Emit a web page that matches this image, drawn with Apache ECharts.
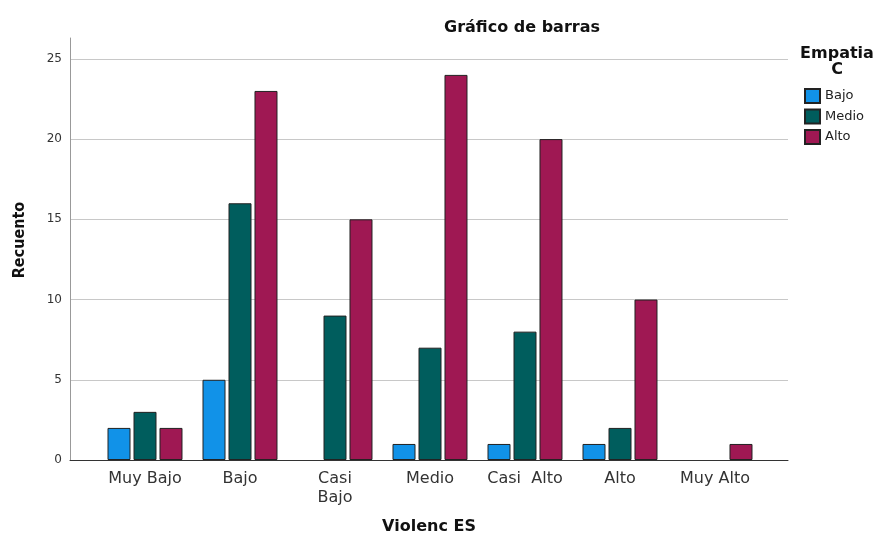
<!DOCTYPE html>
<html><head><meta charset="utf-8">
<script src="https://cdn.jsdelivr.net/npm/echarts@6/dist/echarts.min.js"></script>
<style>html,body{margin:0;padding:0;background:#fff}#c{width:876px;height:535px}</style>
</head><body><div id="c"></div>
<script>
const categories = ['Muy Bajo', 'Bajo', 'Casi\nBajo', 'Medio', 'Casi  Alto', 'Alto', 'Muy Alto'];
const seriesNames = ['Bajo', 'Medio', 'Alto'];
const bajo  = [2, 5, null, 1, 1, 1, null];
const medio = [3, 16, 9, 7, 8, 2, null];
const alto  = [2, 23, 15, 24, 20, 10, 1];
const colors = ['#1192e8', '#005d5d', '#9f1853'];
const yTicks = [0, 5, 10, 15, 20, 25];

const chart = echarts.init(document.getElementById('c'));
const font = 'DejaVu Sans, Liberation Sans, sans-serif';
const yMax = 26.3;
chart.setOption({
  animation: false,
  textStyle: { fontFamily: font },
  title: {
    text: 'Gráfico de barras', left: 517, top: 15, textAlign: 'center',
    textStyle: { fontSize: 16, fontWeight: 'bold', color: '#111', fontFamily: font }
  },
  legend: {
    data: seriesNames, orient: 'vertical', left: 799, top: 83,
    itemWidth: 15, itemHeight: 14, itemGap: 4.5,
    textStyle: { fontSize: 13, color: '#222', lineHeight: 14 },
    icon: 'rect'
  },
  graphic: [{
    type: 'text', x: 837, y: 46,
    style: { text: 'Empatia\nC', font: 'bold 16px ' + font, fill: '#111', align: 'center', lineHeight: 16 }
  }],
  grid: [
    { left: 97.5, right: 113.5, top: 38, bottom: 75, outerBoundsMode: 'none', containLabel: false },
    { left: 70, right: 88, top: 38, bottom: 75, outerBoundsMode: 'none', containLabel: false }
  ],
  xAxis: [
    {
      type: 'category', gridIndex: 0, data: categories,
      axisLine: { show: false }, axisTick: { show: false },
      axisLabel: { fontSize: 16, color: '#333', margin: 9, lineHeight: 19, interval: 0 }
    },
    {
      type: 'value', gridIndex: 1, min: 0, max: 1,
      axisLine: { show: true, lineStyle: { color: '#333', width: 1 } },
      axisTick: { show: false }, axisLabel: { show: false }, splitLine: { show: false },
      name: 'Violenc ES', nameLocation: 'middle', nameGap: 59,
      nameTextStyle: { fontSize: 16, fontWeight: 'bold', color: '#111' }
    }
  ],
  yAxis: [
    { type: 'value', gridIndex: 0, min: 0, max: yMax, interval: 5, show: false, splitLine: { show: false } },
    {
      type: 'value', gridIndex: 1, min: 0, max: yMax, interval: 5,
      axisLine: { show: true, lineStyle: { color: '#999' } },
      axisTick: { show: false },
      axisLabel: { fontSize: 12, color: '#333', margin: 8, showMaxLabel: false,
        formatter: v => yTicks.includes(v) ? String(v) : '' },
      splitLine: { show: true, showMaxLine: false, showMinLine: false, lineStyle: { color: '#c8c8c8' } },
      name: 'Recuento', nameLocation: 'middle', nameGap: 42,
      nameTextStyle: { fontSize: 16, color: '#111', fontWeight: 'bold', padding: [0, 0, 0, 18], fontFamily: 'Liberation Sans Narrow, DejaVu Sans Condensed, sans-serif' }
    }
  ],
  series: [bajo, medio, alto].map((d, i) => ({
    name: seriesNames[i], type: 'bar', xAxisIndex: 0, yAxisIndex: 0, data: d,
    barWidth: 23, barGap: '13%',
    itemStyle: { color: colors[i], borderColor: '#222', borderWidth: 1 }
  }))
});
</script></body></html>
